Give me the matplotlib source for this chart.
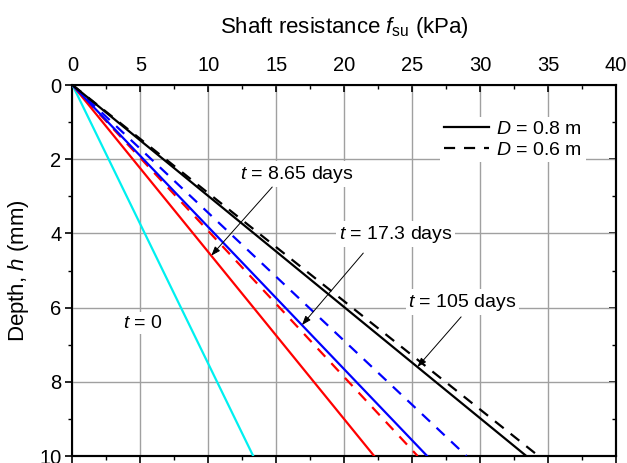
import matplotlib
matplotlib.use("Agg")
import matplotlib.pyplot as plt
from matplotlib.ticker import MultipleLocator

plt.rcParams['font.family'] = ['Liberation Sans', 'DejaVu Sans']
plt.rcParams['mathtext.fontset'] = 'custom'
plt.rcParams['mathtext.rm'] = 'Liberation Sans'
plt.rcParams['mathtext.it'] = 'Liberation Sans:italic'

# Depth range (mm) and shaft resistance at the end points (kPa)
depth = [0, 10]
fsu_t0 = [0, 13.3]
fsu_d08_t865 = [0, 22.2]
fsu_d06_t865 = [0, 25.4]
fsu_d08_t173 = [0, 26.1]
fsu_d06_t173 = [0, 29.0]
fsu_d08_t105 = [0, 33.4]
fsu_d06_t105 = [0, 34.3]

x_ticks = [0, 5, 10, 15, 20, 25, 30, 35, 40]
y_ticks = [0, 2, 4, 6, 8, 10]

fig = plt.figure(figsize=(6.27, 4.63), dpi=100)
ax = fig.add_axes([0.1156, 0.0151, 0.8669, 0.8013])

lw = 1.6
dash = (5, 4)
ax.plot(fsu_t0, depth, color='#00F0F0', lw=lw, zorder=3)
ax.plot(fsu_d08_t865, depth, color='#FF0000', lw=lw, zorder=3)
ax.plot(fsu_d06_t865, depth, color='#FF0000', lw=lw, ls=(0, dash), zorder=3)
ax.plot(fsu_d08_t173, depth, color='#0000FF', lw=lw, zorder=3)
ax.plot(fsu_d06_t173, depth, color='#0000FF', lw=lw, ls=(0, dash), zorder=3)
ax.plot(fsu_d08_t105, depth, color='black', lw=lw, zorder=3, label='$D$ = 0.8 m')
ax.plot(fsu_d06_t105, depth, color='black', lw=lw, ls=(0, dash), zorder=3, label='$D$ = 0.6 m')

ax.set_xlim(0, 40)
ax.set_ylim(10, 0)
ax.set_xticks(x_ticks)
ax.set_yticks(y_ticks)
ax.xaxis.set_minor_locator(MultipleLocator(2.5))
ax.yaxis.set_minor_locator(MultipleLocator(1))
ax.grid(True, which='major', color='#A0A0A0', lw=1.0, zorder=0)
ax.set_axisbelow(True)

ax.xaxis.set_label_position('top')
ax.tick_params(axis='x', which='both', top=True, bottom=False, labeltop=True,
               labelbottom=False, direction='in', labelsize=14.5, pad=7)
ax.tick_params(axis='x', which='major', length=5, width=1.2)
ax.tick_params(axis='x', which='minor', length=3, width=1.0)
ax.tick_params(axis='y', which='both', left=True, right=False, direction='out',
               labelsize=14.5, pad=3)
ax.tick_params(axis='y', which='major', length=5, width=1.2)
ax.tick_params(axis='y', which='minor', length=3, width=1.0)

# mirrored ticks on the bottom and right spines
secx = ax.secondary_xaxis('bottom')
secx.set_xticks(x_ticks)
secx.xaxis.set_minor_locator(MultipleLocator(2.5))
secx.tick_params(axis='x', which='both', direction='out', labelbottom=False)
secx.tick_params(axis='x', which='major', length=5, width=1.2)
secx.tick_params(axis='x', which='minor', length=3, width=1.0)
secy = ax.secondary_yaxis('right')
secy.set_yticks(y_ticks)
secy.yaxis.set_minor_locator(MultipleLocator(1))
secy.tick_params(axis='y', which='both', direction='in', labelright=False)
secy.tick_params(axis='y', which='major', length=5, width=1.2)
secy.tick_params(axis='y', which='minor', length=3, width=1.0)
for s in list(ax.spines.values()) + [secx.spines['bottom'], secy.spines['right']]:
    s.set_linewidth(1.5)

ax.set_xlabel('Shaft resistance $f_{\\rm su}$ (kPa)', fontsize=16, labelpad=17)
ax.set_ylabel('Depth, $h$ (mm)', fontsize=16, labelpad=6)

leg = ax.legend(loc='upper right', bbox_to_anchor=(0.945, 0.915), fontsize=14,
                frameon=True, fancybox=False, handlelength=2.3, handletextpad=0.4,
                labelspacing=0.15, borderpad=0.2, borderaxespad=0)
leg.get_frame().set_facecolor('white')
leg.get_frame().set_edgecolor('none')
leg.get_frame().set_alpha(1)

box = dict(facecolor='white', edgecolor='none', pad=2)


def label_with_arrow(text, text_xy, tail_xy, line_end, tip_depth):
    ax.text(*text_xy, text, fontsize=14, ha='center', va='center', bbox=box, zorder=5)
    tip = (line_end * tip_depth / depth[1], tip_depth)
    ax.annotate('', xy=tip, xytext=tail_xy, zorder=6,
                arrowprops=dict(arrowstyle='-|>,head_length=0.55,head_width=0.2',
                                color='black', lw=0.7, shrinkA=0, shrinkB=0))


label_with_arrow('$t$ = 8.65 days', (16.5, 2.40), (14.7, 2.75), fsu_d08_t865[1], 4.60)
label_with_arrow('$t$ = 17.3 days', (23.8, 4.02), (21.4, 4.53), fsu_d08_t173[1], 6.47)
label_with_arrow('$t$ = 105 days', (28.7, 5.85), (28.6, 6.25), fsu_d08_t105[1], 7.60)
ax.text(5.2, 6.42, '$t$ = 0', fontsize=14, ha='center', va='center', bbox=box, zorder=5)

fig.savefig('out.png', dpi=100)
